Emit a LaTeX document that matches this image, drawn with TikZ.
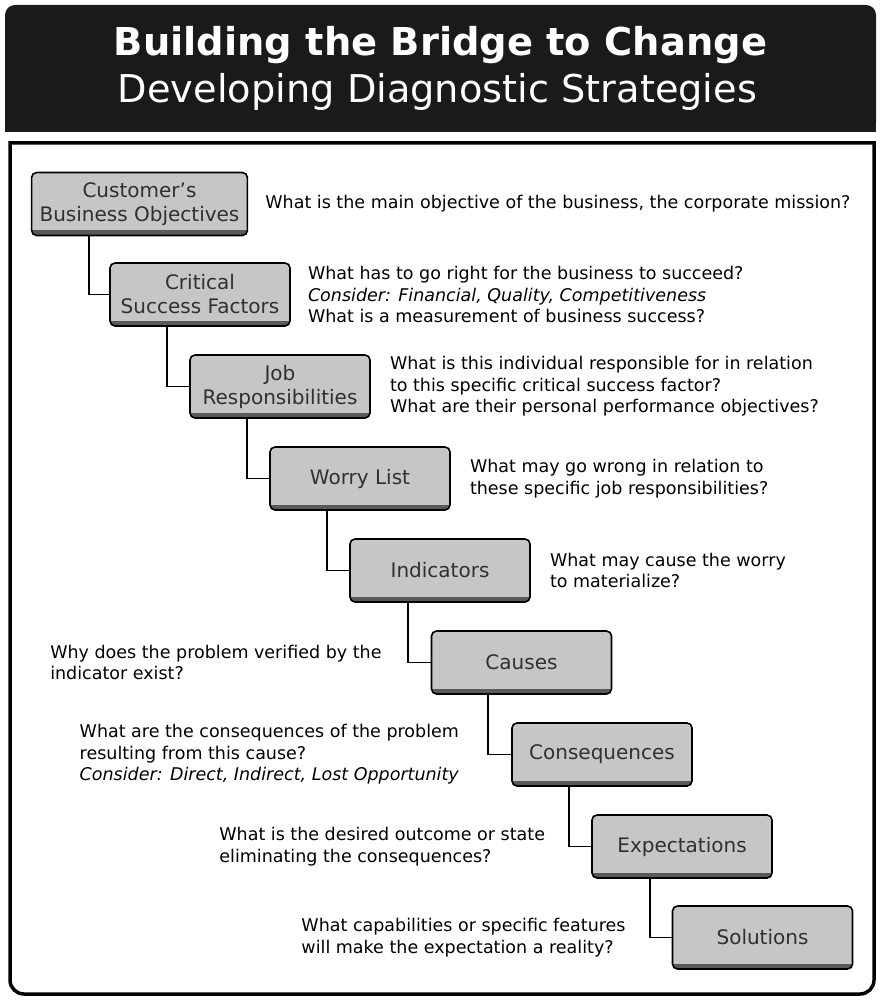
\documentclass[tikz,border=0pt]{standalone}
\usepackage{fontspec}
\setmainfont{DejaVu Sans}
\usetikzlibrary{positioning, calc}
\definecolor{bb_ink}{RGB}{26, 26, 26}
\definecolor{bb_grey}{RGB}{198, 198, 198}
\definecolor{bb_label}{RGB}{48, 48, 48}

\begin{document}
\begin{tikzpicture}[x=1pt, y=-1pt, font=\fontsize{17.5}{21.5}\selectfont,
      stepbox/.style={draw, line width=1.6pt, rounded corners=5pt, fill=bb_grey,
        minimum width=180pt, minimum height=63pt, inner xsep=8pt, align=center,
        text=bb_label, font=\fontsize{20}{24}\selectfont,
        path picture={\fill[black!65, sharp corners] ([yshift=5pt]path picture bounding box.south west)
          rectangle (path picture bounding box.south east);}},
      question/.style={align=left, inner sep=0pt},
      heading/.style={anchor=base, text=white, inner sep=0pt},
      link/.style={line width=1.6pt}]
    \useasboundingbox (0,0) rectangle (882,1000);

    % heading
    \fill[bb_ink, rounded corners=10pt] (5,5) rectangle (876,132);
    \fill[bb_ink] (5,60) rectangle (876,132);
    \node[heading, font=\bfseries\fontsize{38.4}{44}\selectfont] (title) at (440.5,56) {Building the Bridge to Change};
    \node[heading, font=\fontsize{38.3}{44}\selectfont] (subtitle) at (437.5,103) {Developing Diagnostic Strategies};

    % frame
    \draw[line width=3.5pt] (10,143) [rounded corners=14pt] -- (10,994) -- (874,994) [sharp corners] -- (874,143) -- cycle;

    % steps
    \node[stepbox] (cbo)   at (139.5,204) {Customer's\\Business Objectives};
    \node[stepbox] (csf)   at (200,294.5) {Critical\\Success Factors};
    \node[stepbox] (job)   at (280,386.5) {Job\\Responsibilities};
    \node[stepbox] (worry) at (360,478.5) {Worry List};
    \node[stepbox] (ind)   at (440,570.5) {Indicators};
    \node[stepbox] (cau)   at (521.5,662.5) {Causes};
    \node[stepbox] (cons)  at (602,754.5) {Consequences};
    \node[stepbox] (expt)  at (682,846.5) {Expectations};
    \node[stepbox] (sol)   at (762.5,937.5) {Solutions};

    % steps down
    \coordinate (k2) at ([xshift=-20pt]csf.west);
    \coordinate (k3) at ([xshift=-22pt]job.west);
    \coordinate (k4) at ([xshift=-22pt]worry.west);
    \coordinate (k5) at ([xshift=-22pt]ind.west);
    \coordinate (k6) at ([xshift=-23pt]cau.west);
    \coordinate (k7) at ([xshift=-23pt]cons.west);
    \coordinate (k8) at ([xshift=-22pt]expt.west);
    \coordinate (k9) at ([xshift=-22pt]sol.west);
    \draw[link] (cbo.south -| k2)   |- (csf.west);
    \draw[link] (csf.south -| k3)   |- (job.west);
    \draw[link] (job.south -| k4)   |- (worry.west);
    \draw[link] (worry.south -| k5) |- (ind.west);
    \draw[link] (ind.south -| k6)   |- (cau.west);
    \draw[link] (cau.south -| k7)   |- (cons.west);
    \draw[link] (cons.south -| k8)  |- (expt.west);
    \draw[link] (expt.south -| k9)  |- (sol.west);

    % questions
    \node[question, right=17pt of cbo] (q-cbo) {What is the main objective of the business, the corporate mission?};
    \node[question, right=17pt of csf] (q-csf) {What has to go right for the business to succeed?\\
      \textit{Consider: Financial, Quality, Competitiveness}\\What is a measurement of business success?};
    \node[question, right=19pt of job] (q-job) {What is this individual responsible for in relation\\
      to this specific critical success factor?\\What are their personal performance objectives?};
    \node[question, right=19pt of worry] (q-worry) {What may go wrong in relation to\\these specific job responsibilities?};
    \node[question, right=19pt of ind] (q-ind) {What may cause the worry\\to materialize?};
    \node[question, left=49pt of cau] (q-cau) {Why does the problem verified by the\\indicator exist?};
    \node[question, left=52pt of cons] (q-cons) {What are the consequences of the problem\\resulting from this cause?\\
      \textit{Consider: Direct, Indirect, Lost Opportunity}};
    \node[question, left=46pt of expt] (q-expt) {What is the desired outcome or state\\eliminating the consequences?};
    \node[question, left=46pt of sol] (q-sol) {What capabilities or specific features\\will make the expectation a reality?};
\end{tikzpicture}
\end{document}
